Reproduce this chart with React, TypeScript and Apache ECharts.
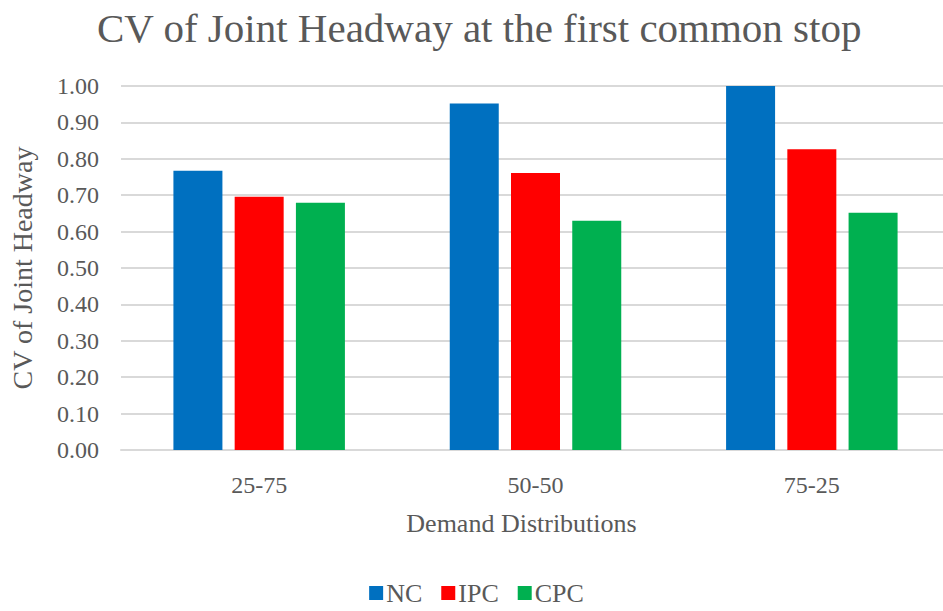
import React, { useEffect, useRef } from "react";
import * as echarts from "echarts";

const categories = ["25-75", "50-50", "75-25"];
const seriesNames = ["NC", "IPC", "CPC"];
const ncValues = [0.767, 0.952, 1.0];
const ipcValues = [0.696, 0.761, 0.826];
const cpcValues = [0.679, 0.63, 0.652];
const colors = ["#0070C0", "#FF0000", "#00B050"];

const FONT = "'Liberation Serif', 'Times New Roman', serif";
const TEXT = "#595959";

export default function App() {
  const ref = useRef<HTMLDivElement>(null);
  useEffect(() => {
    const chart = echarts.init(ref.current!, null, { renderer: "svg" });
    const data = [ncValues, ipcValues, cpcValues];
    chart.setOption({
      animation: false,
      textStyle: { fontFamily: FONT },
      title: {
        text: "CV of Joint Headway at the first common stop",
        left: 92,
        top: 2,
        textStyle: { fontFamily: FONT, fontSize: 41, fontWeight: "normal", color: TEXT },
      },
      legend: {
        data: seriesNames,
        bottom: 0,
        left: "center",
        icon: "rect",
        itemWidth: 14,
        itemHeight: 14,
        itemGap: 19,
        textStyle: { fontFamily: FONT, fontSize: 26, color: TEXT, padding: [0, 0, 0, -2] },
      },
      grid: { left: 113, top: 86, width: 837, height: 364, containLabel: false },
      xAxis: {
        type: "category",
        data: categories,
        name: "Demand Distributions",
        nameLocation: "middle",
        nameGap: 60,
        nameTextStyle: { fontFamily: FONT, fontSize: 26, color: TEXT, padding: [0, 28, 0, 0] },
        axisLine: { show: true, lineStyle: { color: "#D9D9D9", width: 2 } },
        axisTick: { show: false },
        axisLabel: { fontFamily: FONT, fontSize: 24, color: TEXT, margin: 23 },
      },
      yAxis: {
        type: "value",
        min: 0,
        max: 1,
        interval: 0.1,
        name: "CV of Joint Headway",
        nameLocation: "middle",
        nameGap: 85,
        nameTextStyle: { fontFamily: FONT, fontSize: 28, color: TEXT },
        axisLine: { show: false },
        axisTick: { show: false },
        axisLabel: {
          fontFamily: FONT,
          fontSize: 24,
          color: TEXT,
          margin: 22,
          formatter: (v: number) => v.toFixed(2),
        },
        splitLine: { lineStyle: { color: "#D9D9D9", width: 2 } },
      },
      series: seriesNames.map((name, i) => ({
        name,
        type: "bar",
        data: data[i],
        barWidth: 49,
        barGap: "25%",
        itemStyle: { color: colors[i] },
      })),
    });
    return () => chart.dispose();
  }, []);
  return (
    <div
      ref={ref}
      style={{ position: "fixed", left: 0, top: 0, width: 953, height: 611, background: "#fff" }}
    />
  );
}
